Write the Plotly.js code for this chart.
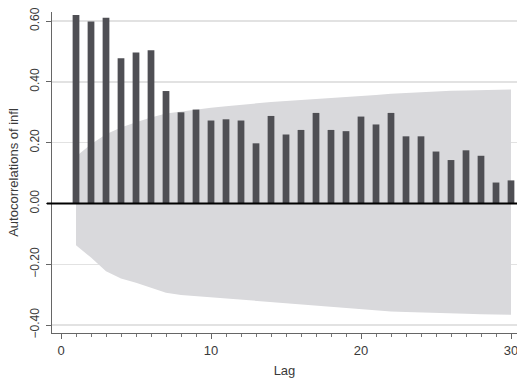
<!DOCTYPE html>
<html>
<head>
<meta charset="utf-8">
<script src="https://cdn.plot.ly/plotly-3.0.1.min.js"></script>
<style>html,body{margin:0;padding:0;background:#fff;}#chart{width:517px;height:378px;}</style>
</head>
<body>
<div id="chart"></div>
<script>
const lags = [1,2,3,4,5,6,7,8,9,10,11,12,13,14,15,16,17,18,19,20,21,22,23,24,25,26,27,28,29,30];
const acf = [0.620,0.599,0.611,0.478,0.497,0.504,0.370,0.300,0.309,0.273,0.277,0.273,0.198,0.288,0.227,0.242,0.298,0.242,0.238,0.286,0.260,0.298,0.221,0.221,0.171,0.143,0.175,0.157,0.069,0.076];
const bandUpper = [0.155,0.195,0.228,0.250,0.267,0.283,0.296,0.303,0.309,0.315,0.320,0.325,0.331,0.334,0.337,0.340,0.344,0.347,0.350,0.354,0.357,0.361,0.364,0.367,0.369,0.371,0.372,0.373,0.374,0.375];
const bandLower = [-0.137,-0.178,-0.223,-0.247,-0.261,-0.278,-0.294,-0.301,-0.305,-0.309,-0.312,-0.316,-0.320,-0.323,-0.327,-0.331,-0.335,-0.339,-0.343,-0.347,-0.351,-0.355,-0.357,-0.359,-0.361,-0.362,-0.363,-0.364,-0.365,-0.366];
const yTickVals = [-0.4,-0.2,0,0.2,0.4,0.6];
const yTickText = ["\u22120.40","\u22120.20","0.00","0.20","0.40","0.60"];
const xTickVals = [0,10,20,30];
const xTickText = ["0","10","20","30"];

const font = "Liberation Sans, Arial, Helvetica, sans-serif";
const xRange = [-0.6,30.4];
const yRange = [-0.426,0.630];
const traces = [
  {x: lags, y: bandLower, xaxis:'x', yaxis:'y', type:'scatter', mode:'lines', line:{width:0, color:'#d9d9dc'}, hoverinfo:'skip', showlegend:false},
  {x: lags, y: bandUpper, xaxis:'x', yaxis:'y', type:'scatter', mode:'lines', line:{width:0, color:'#d9d9dc'}, fill:'tonexty', fillcolor:'#d9d9dc', hoverinfo:'skip', showlegend:false},
  {x: lags, y: acf, xaxis:'x2', yaxis:'y2', type:'bar', width:0.45, marker:{color:'#4f4f54', line:{width:0}}, showlegend:false}
];
const layout = {
  width:517, height:378,
  margin:{l:52, r:0, t:12, b:45, pad:0},
  paper_bgcolor:'#ffffff', plot_bgcolor:'#ffffff',
  font:{family:font, color:'#3a3a3a'},
  showlegend:false,
  xaxis:{
    range:xRange, tickvals:xTickVals, ticktext:xTickText,
    ticks:'outside', ticklen:5, tickwidth:1, tickcolor:'#666',
    minor:{dtick:1, tick0:0, ticks:'outside', ticklen:3, tickwidth:1, tickcolor:'#777', showgrid:false},
    showgrid:false, zeroline:false, showline:true, linecolor:'#666', linewidth:1,
    ticklabeloverflow:'allow',
    tickfont:{size:13, family:font, color:'#3a3a3a'},
    title:{text:'Lag', font:{size:13, family:font, color:'#3a3a3a'}, standoff:9}
  },
  yaxis:{
    range:yRange, tickvals:yTickVals, ticktext:yTickText, tickangle:-90,
    ticks:'outside', ticklen:5, tickwidth:1, tickcolor:'#666',
    showgrid:true, gridcolor:'#e2e2e2', gridwidth:1.5,
    zeroline:false, showline:true, linecolor:'#666', linewidth:1,
    ticklabelstandoff:2,
    tickfont:{size:12, family:font, color:'#3a3a3a'},
    title:{text:'Autocorrelations of infl', font:{size:13, family:font, color:'#3a3a3a'}, standoff:6}
  },
  xaxis2:{overlaying:'x', range:xRange, visible:false, showgrid:false, zeroline:false},
  yaxis2:{overlaying:'y', range:yRange, visible:false, showgrid:false, zeroline:false},
  shapes:[
    {type:'line', xref:'paper', yref:'y', x0:-0.011, x1:1, y0:0, y1:0, line:{color:'#000', width:2}, layer:'above'}
  ]
};
Plotly.newPlot('chart', traces, layout, {staticPlot:true, displayModeBar:false});
</script>
</body>
</html>
